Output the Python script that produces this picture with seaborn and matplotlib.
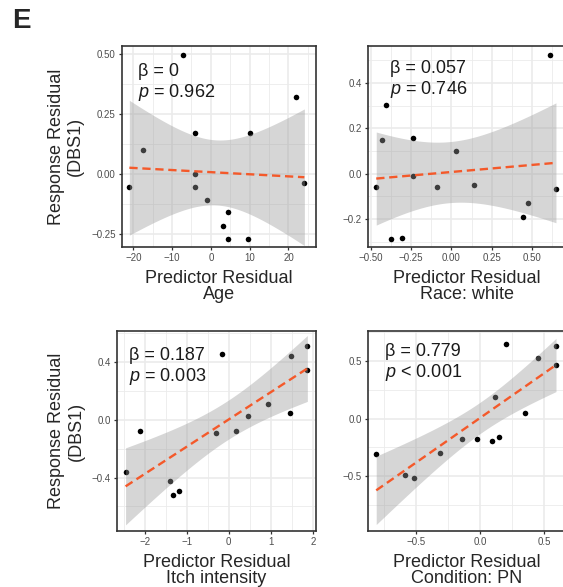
import numpy as np
import matplotlib
matplotlib.use('Agg')
import matplotlib.pyplot as plt
import seaborn as sns
from matplotlib.ticker import MultipleLocator, FuncFormatter

# residuals (added-variable plots, 14 subjects)
age_x = [-7.05, 22.0, -4.0, 10.0, -17.5, -4.0, -21.0, -4.0, 24.1, -0.9, 4.4, 3.05, 4.4, 9.5]
age_y = [0.493, 0.320, 0.168, 0.168, 0.098, 0.0, -0.054, -0.054, -0.038, -0.109, -0.159, -0.219, -0.273, -0.273]

race_x = [0.610, -0.404, -0.429, -0.239, 0.027, -0.239, -0.465, -0.086, 0.143, 0.647, 0.471, 0.441, -0.373, -0.304]
race_y = [0.522, 0.301, 0.147, 0.155, 0.100, -0.010, -0.058, -0.059, -0.050, -0.069, -0.128, -0.190, -0.289, -0.286]

itch_x = [1.870, -0.151, 1.474, 1.870, 0.935, 0.468, 1.450, -2.124, -0.309, 0.166, -2.456, -1.410, -1.181, -1.323]
itch_y = [0.516, 0.460, 0.444, 0.349, 0.113, 0.030, 0.049, -0.074, -0.092, -0.079, -0.363, -0.423, -0.495, -0.518]

pn_x = [0.203, 0.590, 0.451, 0.590, 0.118, 0.346, -0.144, -0.028, 0.092, 0.146, -0.310, -0.808, -0.585, -0.515]
pn_y = [0.647, 0.633, 0.526, 0.462, 0.191, 0.052, -0.173, -0.179, -0.194, -0.156, -0.298, -0.303, -0.488, -0.512]

predictors = ['Age', 'Race: white', 'Itch intensity', 'Condition: PN']
betas = ['0', '0.057', '0.187', '0.779']
pvals = ['= 0.962', '= 0.746', '= 0.003', '< 0.001']

T_CRIT = 2.1788  # t(0.975, df=12)

sns.set_style('white')
plt.rcParams['font.family'] = ['Liberation Sans', 'DejaVu Sans']
plt.rcParams['mathtext.fontset'] = 'custom'
plt.rcParams['mathtext.rm'] = 'Liberation Sans'
plt.rcParams['mathtext.it'] = 'Liberation Sans:italic'

fig = plt.figure(figsize=(5.63, 5.87), dpi=100)

W, H = 563, 587
# axes boxes in pixels: left, top, width, height
boxes = [(122, 46, 194, 201), (368, 46, 197, 201),
         (117, 331, 199, 200), (368, 331, 197, 200)]
limits = [((-22.9, 27.1), (-0.306, 0.532)),
          ((-0.516, 0.703), (-0.324, 0.563)),
          ((-2.66, 2.076), (-0.770, 0.617)),
          ((-0.872, 0.66), (-0.974, 0.760))]
ticks = [(10, 0.25), (0.25, 0.2), (1, 0.4), (0.5, 0.5)]
decimals = [(0, 2), (2, 1), (0, 1), (1, 1)]
text_pos = [(0.082, 0.915), (0.11, 0.93), (0.06, 0.92), (0.086, 0.94)]

data = [(age_x, age_y), (race_x, race_y), (itch_x, itch_y), (pn_x, pn_y)]


def fmt(dec):
    def f(v, pos):
        v = round(v, 6) + 0.0
        return f'{v:.{dec}f}'.replace('-', '\u2212')
    return FuncFormatter(f)


for i, (xs, ys) in enumerate(data):
    l, t, w, h = boxes[i]
    ax = fig.add_axes([l / W, 1 - (t + h) / H, w / W, h / H])
    x = np.array(xs)
    y = np.array(ys)

    sns.scatterplot(x=x, y=y, ax=ax, color='black', s=16, linewidth=0, zorder=2)

    # ordinary least squares fit with 95% confidence band
    n = len(x)
    slope, intercept = np.polyfit(x, y, 1)
    resid = y - (slope * x + intercept)
    s = np.sqrt(np.sum(resid ** 2) / (n - 2))
    grid = np.linspace(x.min(), x.max(), 100)
    fit = slope * grid + intercept
    se = s * np.sqrt(1 / n + (grid - x.mean()) ** 2 / np.sum((x - x.mean()) ** 2))
    ax.fill_between(grid, fit - T_CRIT * se, fit + T_CRIT * se,
                    color='#999999', alpha=0.4, linewidth=0, zorder=3)
    ax.plot(grid, fit, color='#F4592A', lw=1.7, dashes=(3.5, 2), zorder=4)

    ax.set_xlim(*limits[i][0])
    ax.set_ylim(*limits[i][1])
    xm, ym = ticks[i]
    ax.xaxis.set_major_locator(MultipleLocator(xm))
    ax.xaxis.set_minor_locator(MultipleLocator(xm / 2))
    ax.yaxis.set_major_locator(MultipleLocator(ym))
    ax.yaxis.set_minor_locator(MultipleLocator(ym / 2))
    ax.xaxis.set_major_formatter(fmt(decimals[i][0]))
    ax.yaxis.set_major_formatter(fmt(decimals[i][1]))

    ax.grid(which='major', color='#EBEBEB', lw=1.2)
    ax.grid(which='minor', color='#EBEBEB', lw=0.6)
    ax.set_axisbelow(True)
    for sp in ax.spines.values():
        sp.set_color('#333333')
        sp.set_linewidth(1.2)
    ax.tick_params(which='major', length=2.5, width=0.9, color='#333333',
                   labelsize=7, labelcolor='#4D4D4D', pad=2,
                   bottom=True, left=True)
    ax.tick_params(which='minor', length=0)

    ax.set_xlabel('Predictor Residual\n' + predictors[i], fontsize=13,
                  labelpad=5, linespacing=0.92)
    if i % 2 == 0:
        ax.set_ylabel('Response Residual\n(DBS1)', fontsize=13,
                      labelpad=5, linespacing=1.2)

    tx, ty = text_pos[i]
    ax.text(tx, ty, '\u03b2 = ' + betas[i] + '\n$\\mathit{p}$ ' + pvals[i],
            transform=ax.transAxes, fontsize=13, va='top', ha='left',
            linespacing=1.15, color='#1A1A1A', zorder=5)

fig.text(12.5 / W, 1 - 8 / H, 'E', fontsize=20, fontweight='bold', va='top', ha='left')

fig.savefig('out.png', dpi=100)
